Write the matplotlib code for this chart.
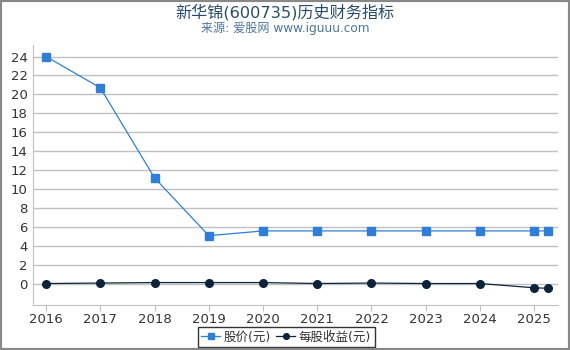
import matplotlib
matplotlib.use("Agg")
import matplotlib.pyplot as plt
from matplotlib.patches import Rectangle

plt.rcParams['font.family'] = ['DejaVu Sans', 'Noto Sans CJK SC']

years = [2016, 2017, 2018, 2019, 2020, 2021, 2022, 2023, 2024, 2025, 2025.25]
price = [24.0, 20.7, 11.2, 5.1, 5.6, 5.6, 5.6, 5.6, 5.6, 5.6, 5.6]
eps = [0.05, 0.1, 0.15, 0.15, 0.15, 0.05, 0.1, 0.05, 0.05, -0.4, -0.45]
xticks = [2016, 2017, 2018, 2019, 2020, 2021, 2022, 2023, 2024, 2025]
yticks = list(range(0, 25, 2))

fig = plt.figure(figsize=(5.7, 3.5), dpi=100)
ax = fig.add_axes([0.058, 0.129, 0.921, 0.742])

ax.plot(years, price, color='#2f7ed8', lw=0.9, marker='s', ms=5.5,
        label='股价(元)', zorder=3)
ax.plot(years, eps, color='#0d233a', lw=0.9, marker='o', ms=5.5,
        label='每股收益(元)', zorder=4)

ax.set_xlim(2015.76, 2025.44)
ax.set_ylim(-2.2, 25.2)
ax.set_xticks(xticks)
ax.set_xticklabels([str(y) for y in xticks])
ax.set_yticks(yticks)
ax.grid(axis='y', color='#c0c0c0', lw=1)
ax.set_axisbelow(True)
for s in ['top', 'right']:
    ax.spines[s].set_visible(False)
for s in ['left', 'bottom']:
    ax.spines[s].set_color('#c0c0c0')
ax.tick_params(axis='y', length=0, labelsize=9.5, labelcolor='#333333', pad=4)
ax.tick_params(axis='x', length=4, color='#c0c0c0', labelsize=9.5, labelcolor='#333333', pad=2)

fig.text(0.5, 0.965, '新华锦(600735)历史财务指标', ha='center', va='center',
         fontsize=11.6, color='#274b6d')
fig.text(0.5, 0.918, '来源: 爱股网 www.iguuu.com', ha='center', va='center',
         fontsize=8.7, color='#4d759e')

leg = fig.legend(loc='center', bbox_to_anchor=(0.502, 0.037), ncol=2, fontsize=9,
                 frameon=True, fancybox=False, edgecolor='black', handlelength=1.5,
                 handletextpad=0.3, columnspacing=0.4, borderpad=0.3, markerscale=0.75)
leg.get_frame().set_linewidth(1)
for t in leg.get_texts():
    t.set_color('#333333')

fig.patches.append(Rectangle((0, 0), 1, 1, transform=fig.transFigure, fill=False,
                             edgecolor='#888888', lw=3, zorder=10))

fig.savefig('out.png', dpi=100)
